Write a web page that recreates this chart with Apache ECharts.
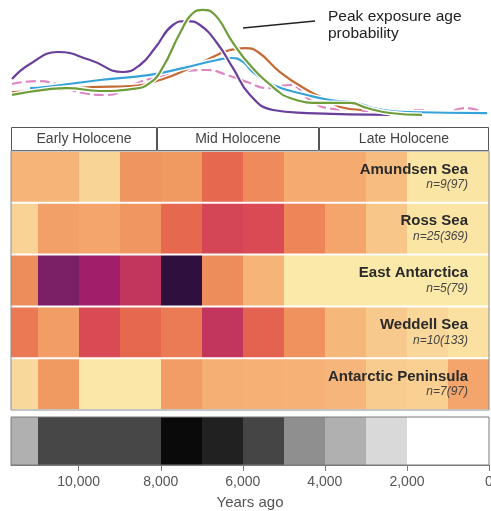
<!DOCTYPE html>
<html>
<head>
<meta charset="utf-8">
<title>Peak exposure age</title>
<script src="https://cdn.jsdelivr.net/npm/echarts@6/dist/echarts.min.js"></script>
<style>
  html, body { margin: 0; padding: 0; background: #fff; }
  #chart { width: 491px; height: 511px; }
</style>
</head>
<body>
<div id="chart"></div>
<script>
// rows, top to bottom
var regions = ['Amundsen Sea', 'Ross Sea', 'East Antarctica', 'Weddell Sea', 'Antarctic Peninsula']
var sampleCounts = ['n=9(97)', 'n=25(369)', 'n=5(79)', 'n=10(133)', 'n=7(97)']

// 1000 year bins, older edge in years ago
var binStarts = [12000, 11000, 10000, 9000, 8000, 7000, 6000, 5000, 4000, 3000, 2000, 1000]
var binWidth = 1000

// relative density of exposure ages per bin (0 low .. 12 high)
var amundsenHeat = [2.5, 2.5, 1, 4.2, 4, 6, 4.6, 3, 3, 2, 0.2, 0.2]
var rossHeat = [1.1, 3.6, 3.3, 4.1, 6, 7.2, 7, 4.8, 3.3, 1.6, 0.2, 0.2]
var eastAntHeat = [4.5, 10, 9, 8, 12, 4.5, 2.5, 0, 0, 0, 0, 0]
var weddellHeat = [5.3, 3.8, 7, 6, 5.2, 8, 6.2, 4.3, 2.3, 1.5, 0.9, 0.4]
var peninsulaHeat = [0.8, 4, 0.1, 0.1, 3.8, 2.8, 2.7, 2.6, 2.4, 1.4, 1.2, 3.3]
// all regions together (grey bar)
var combinedHeat = [3.1, 7.2, 7.2, 7.2, 9.6, 8.7, 7.3, 4.4, 3.1, 1.5, 0, 0]

var periods = ['Early Holocene', 'Mid Holocene', 'Late Holocene']
var periodStarts = [11700, 8100, 4150]
var periodEnds = [8100, 4150, 0]

var xTicks = [10000, 8000, 6000, 4000, 2000, 0]
var xMax = 11650

// peak exposure age probability curves
var eastAntYears = [11625, 11187, 10504, 9724, 8920, 8506, 8140, 7702, 7360, 7044, 6629, 6239, 5825, 5264, 4436, 2413]
var eastAntProb = [34.5, 47.8, 58.4, 51.3, 40.7, 46.9, 61.9, 82.3, 85.8, 82.3, 66.4, 44.2, 20.4, 7.1, 4.4, 2.7]
var weddellYears = [11625, 10675, 10285, 9481, 8676, 8262, 7945, 7531, 7214, 6970, 6727, 6239, 5825, 5264, 4850, 4046, 3388, 2973, 2413, 1633]
var weddellProb = [20.4, 25.7, 26.5, 23.9, 25.7, 31, 45.1, 75.2, 92.9, 95.6, 92.9, 66.4, 46.9, 27.4, 17.7, 13.3, 13.3, 8.8, 4.4, 2.7]
var rossYears = [11625, 10675, 9724, 8750, 8018, 7287, 6629, 6312, 5947, 5630, 5094, 4436, 3948, 3631, 3100]
var rossProb = [23, 24.8, 27.4, 28.3, 33.6, 44.2, 55.8, 60.2, 61.9, 58.4, 40.7, 24.8, 15.9, 9.7, 7.1]
var amundsenYears = [11187, 10821, 9481, 8262, 7458, 6629, 6264, 5996, 5752, 5264, 4436, 3875, 3217, 2827, 1998, 49]
var amundsenProb = [26.5, 27.4, 33.6, 38.1, 44.2, 51.3, 53.1, 49.6, 40.7, 29.2, 20.4, 15.9, 13.3, 8.8, 5.3, 4.4]
var peninsulaYears = [11625, 11016, 10626, 9895, 9310, 8871, 8506, 8018, 7360, 6873, 6385, 5898, 5411, 4850, 4363, 3948, 3388, 2413, 1682, 1194, 585, 219]
var peninsulaProb = [30.1, 32.7, 31, 22.1, 20.4, 24.8, 31.9, 36.3, 41.6, 42.5, 38.1, 31.9, 26.5, 29.2, 15.9, 8.8, 7.1, 4.4, 7.1, 3.5, 8.8, 6.2]

var heatColors = ['#fbe9a9', '#f9d497', '#f7bd80', '#f5aa70', '#f09a62', '#ec8056', '#e6684f',
  '#d94a55', '#c2355c', '#a11f6a', '#7b1f66', '#4f1753', '#2e0f3e']

var chart = echarts.init(document.getElementById('chart'))

function zip(xs, ys) {
  return xs.map(function (x, i) { return [x, ys[i]] })
}

var heatRows = [amundsenHeat, rossHeat, eastAntHeat, weddellHeat, peninsulaHeat]
var heatData = []
heatRows.forEach(function (row, r) {
  row.forEach(function (v, c) {
    heatData.push([binStarts[c], binStarts[c] - binWidth, r, v])
  })
})
var combinedData = combinedHeat.map(function (v, c) {
  return [binStarts[c], binStarts[c] - binWidth, 0, v]
})
var periodData = periods.map(function (p, i) {
  return [periodStarts[i], periodEnds[i]]
})

function cellItem(params, api) {
  var p0 = api.coord([api.value(0), api.value(2)])
  var p1 = api.coord([api.value(1), api.value(2)])
  var h = api.size([0, 1])[1]
  var x0 = Math.round(Math.min(p0[0], p1[0]))
  var x1 = Math.round(Math.max(p0[0], p1[0]))
  return {
    type: 'rect',
    shape: { x: x0, y: p0[1] - h / 2 + 1, width: x1 - x0, height: h - 2 },
    style: { fill: api.visual('color') }
  }
}

function barItem(params, api) {
  var p0 = api.coord([api.value(0), 1])
  var p1 = api.coord([api.value(1), 0])
  var x0 = Math.round(Math.min(p0[0], p1[0]))
  var x1 = Math.round(Math.max(p0[0], p1[0]))
  return {
    type: 'rect',
    shape: { x: x0, y: p0[1], width: x1 - x0, height: p1[1] - p0[1] },
    style: { fill: api.visual('color') }
  }
}

function periodItem(params, api) {
  var rect = params.coordSys
  var p0 = api.coord([api.value(0), 1])
  var p1 = api.coord([api.value(1), 0])
  var x0 = Math.max(rect.x, Math.round(Math.min(p0[0], p1[0])))
  var x1 = Math.min(rect.x + rect.width, Math.round(Math.max(p0[0], p1[0])))
  return {
    type: 'rect',
    shape: { x: x0 + 0.5, y: Math.round(p0[1]) + 0.5, width: x1 - x0 - 1, height: Math.round(p1[1] - p0[1]) - 1 },
    style: { fill: '#fff', stroke: '#555', lineWidth: 1 },
    textContent: {
      style: { text: periods[params.dataIndex], fill: '#444', fontSize: 14, fontFamily: 'Liberation Sans' }
    },
    textConfig: { position: 'inside' }
  }
}

var curves = [
  { name: 'Antarctic Peninsula', data: zip(peninsulaYears, peninsulaProb), color: '#de86c3', type: [10, 4] },
  { name: 'Ross Sea', data: zip(rossYears, rossProb), color: '#c46a34', type: 'solid' },
  { name: 'Amundsen Sea', data: zip(amundsenYears, amundsenProb), color: '#35a2d8', type: 'solid' },
  { name: 'East Antarctica', data: zip(eastAntYears, eastAntProb), color: '#6a3f9b', type: 'solid' },
  { name: 'Weddell Sea', data: zip(weddellYears, weddellProb), color: '#6e9d3a', type: 'solid' }
]

var series = []
curves.forEach(function (c) {
  series.push({
    type: 'line', xAxisIndex: 0, yAxisIndex: 0, data: c.data, smooth: 0.5,
    showSymbol: false, silent: true,
    lineStyle: { color: '#fff', width: 5 }
  })
  series.push({
    name: c.name, type: 'line', xAxisIndex: 0, yAxisIndex: 0, data: c.data, smooth: 0.5,
    showSymbol: false,
    lineStyle: { color: c.color, width: 2.2, type: c.type }
  })
})

series.push({
  id: 'periods', type: 'custom', xAxisIndex: 1, yAxisIndex: 1,
  data: periodData, renderItem: periodItem, encode: { x: [0, 1] }
})
series.push({
  id: 'heat', type: 'custom', xAxisIndex: 2, yAxisIndex: 2, clip: true,
  data: heatData, renderItem: cellItem, encode: { x: [0, 1], y: 2 }
})
series.push({
  id: 'combined', type: 'custom', xAxisIndex: 3, yAxisIndex: 3, clip: true,
  data: combinedData, renderItem: barItem, encode: { x: [0, 1] }
})

function hiddenX(i) {
  return { type: 'value', gridIndex: i, min: 0, max: xMax, inverse: true, show: false }
}

chart.setOption({
  animation: false,
  textStyle: { fontFamily: 'Liberation Sans, Arial, sans-serif' },
  grid: [
    { left: 11, width: 478, top: 5, height: 113, outerBoundsMode: 'none' },
    { left: 11, width: 478, top: 127, height: 24, outerBoundsMode: 'none' },
    { left: 11, width: 478, top: 151, height: 259, show: true, borderColor: '#8a8a8a', borderWidth: 1, z: 10, outerBoundsMode: 'none' },
    { left: 11, width: 478, top: 417, height: 48, show: true, borderColor: '#7a7a7a', borderWidth: 1, z: 10, outerBoundsMode: 'none' }
  ],
  xAxis: [
    hiddenX(0), hiddenX(1), hiddenX(2),
    {
      type: 'value', gridIndex: 3, min: 0, max: xMax, inverse: true,
      name: 'Years ago', nameLocation: 'middle', nameGap: 30,
      nameTextStyle: { fontSize: 15, color: '#555' },
      axisLine: { show: true, lineStyle: { color: '#7a7a7a' } },
      axisTick: { show: true, length: 6, customValues: xTicks, lineStyle: { color: '#7a7a7a' } },
      axisLabel: {
        customValues: xTicks, margin: 10, fontSize: 14, color: '#555',
        formatter: function (v) { return v.toLocaleString('en-US') }
      },
      splitLine: { show: false }
    }
  ],
  yAxis: [
    { type: 'value', gridIndex: 0, min: 0, max: 100, show: false },
    { type: 'value', gridIndex: 1, min: 0, max: 1, show: false },
    {
      type: 'category', gridIndex: 2, data: regions, inverse: true, position: 'right', z: 20,
      axisLine: { show: false }, axisTick: { show: false }, splitLine: { show: false },
      axisLabel: {
        inside: true, margin: 21,
        formatter: function (v, i) { return '{name|' + v + '}\n{n|' + sampleCounts[i] + '}' },
        rich: {
          name: { fontSize: 15, fontWeight: 'bold', color: '#2a2a2a', lineHeight: 16, align: 'right' },
          n: { fontSize: 12, fontStyle: 'italic', color: '#444', lineHeight: 15, align: 'right' }
        }
      }
    },
    { type: 'value', gridIndex: 3, min: 0, max: 1, show: false }
  ],
  visualMap: [
    { type: 'continuous', show: false, seriesId: 'heat', dimension: 3, min: 0, max: 12, inRange: { color: heatColors } },
    { type: 'continuous', show: false, seriesId: 'combined', dimension: 3, min: 0, max: 10, inRange: { color: ['#ffffff', '#000000'] } }
  ],
  graphic: [
    { type: 'line', shape: { x1: 243, y1: 28, x2: 315, y2: 21 }, style: { stroke: '#222', lineWidth: 1.5 } },
    {
      type: 'text', x: 328, y: 8,
      style: { text: 'Peak exposure age\nprobability', fontSize: 15.5, lineHeight: 17, fill: '#222', fontFamily: 'Liberation Sans' }
    }
  ],
  series: series
})
</script>
</body>
</html>
